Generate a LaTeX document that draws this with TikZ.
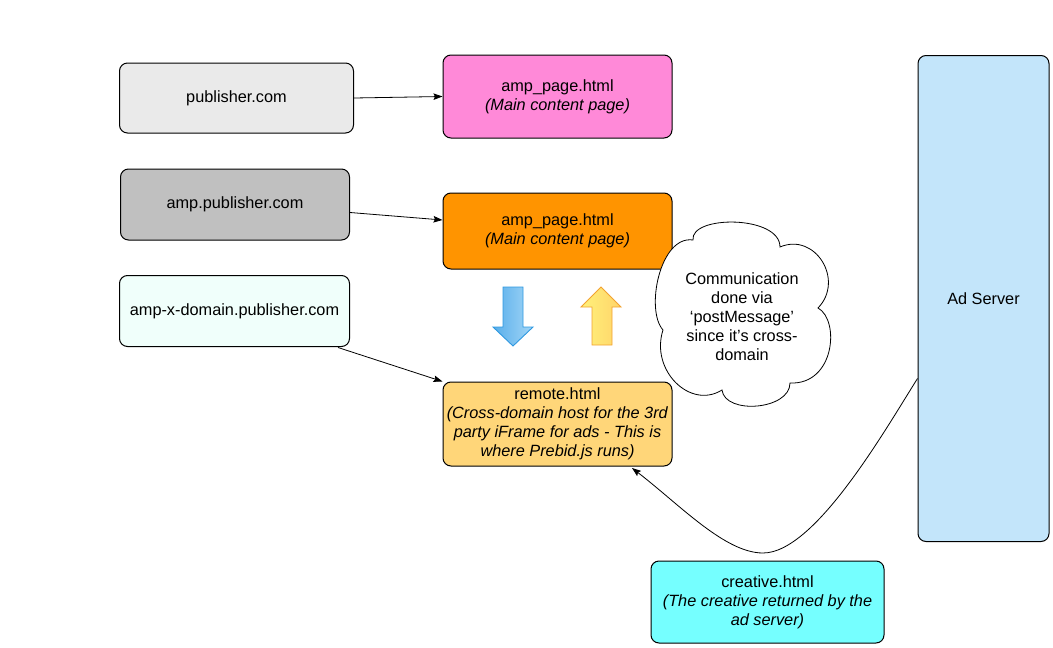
\documentclass[tikz,border=0pt]{standalone}
\usepackage{fontspec}
\setmainfont{Liberation Sans}
\usetikzlibrary{arrows.meta,calc}
\definecolor{pubgray}{HTML}{EAEAEA}
\definecolor{pinkbox}{HTML}{FF89D8}
\definecolor{graybox}{HTML}{C0C0C0}
\definecolor{orangebox}{HTML}{FF9400}
\definecolor{xdombox}{HTML}{F0FFFB}
\definecolor{remotebox}{HTML}{FFD679}
\definecolor{adbox}{HTML}{C3E5FA}
\definecolor{creativebox}{HTML}{75FFFF}
\definecolor{bluedark}{HTML}{58AEEA}
\definecolor{bluelight}{HTML}{A3D6F7}
\definecolor{blueedge}{HTML}{2E98E0}
\definecolor{yellowlight}{HTML}{FFF17A}
\definecolor{yellowdark}{HTML}{FFD46A}
\definecolor{yellowedge}{HTML}{F2A230}
\tikzset{
  every node/.style={font=\fontsize{16.3}{19}\selectfont},
  box/.style={draw=black, line width=1pt, rounded corners=8pt, align=center, inner sep=0pt},
  link/.style={line width=0.8pt, -{Stealth[length=9pt,width=6.5pt,inset=1.5pt]}},
  cloudline/.style={draw=black, line width=0.8pt, fill=white}
}
\begin{document}
\begin{tikzpicture}[x=1pt,y=-1pt]
\useasboundingbox (0,0) rectangle (1053,648);

\node[box, fill=pubgray, minimum width=234pt, minimum height=70pt] (pub) at (236.5,98) {publisher.com};
\node[box, fill=pinkbox, minimum width=229pt, minimum height=83pt] (pink) at (557.5,96.5) {amp\_page.html\\\textit{(Main content page)}};
\node[box, fill=graybox, minimum width=229pt, minimum height=71pt] (amppub) at (235,204.5) {amp.publisher.com};
\node[box, fill=orangebox, minimum width=229pt, minimum height=76pt] (orange) at (557.5,231) {amp\_page.html\\\textit{(Main content page)}};
\node[box, fill=xdombox, minimum width=230pt, minimum height=71pt] (ampx) at (234.5,311) {amp-x-domain.publisher.com};
\node[box, fill=remotebox, minimum width=229pt, minimum height=84pt] (remote) at (557.5,424) {remote.html\\\textit{(Cross-domain host for the 3rd}\\\textit{party iFrame for ads - This is}\\\textit{where Prebid.js runs)}};
\node[box, fill=adbox, minimum width=131pt, minimum height=486pt] (ad) at (983.5,298.5) {Ad Server};
\node[box, fill=creativebox, minimum width=233pt, minimum height=82pt] (creative) at (767.5,602) {creative.html\\\textit{(The creative returned by the}\\\textit{ad server)}};

% cloud
\path[cloudline] (663,330)
  .. controls (645,310) and (660,235) .. (693,240)
  .. controls (690,215) and (780,215) .. (780,247)
  .. controls (815,232) and (845,280) .. (818,308)
  .. controls (840,320) and (835,385) .. (790,383)
  .. controls (790,410) and (725,415) .. (722,390)
  .. controls (690,410) and (650,370) .. (663,330) -- cycle;
\node[align=center, inner sep=0pt] (cloudtxt) at (742,317) {Communication\\done via\\‘postMessage’\\since it’s cross-\\domain};

% block arrows
\shadedraw[left color=bluedark, right color=bluelight, draw=blueedge, line width=0.9pt]
  (503,287) -- (523,287) -- (523,327) -- (533,327) -- (513,346) -- (493,327) -- (503,327) -- cycle;
\shadedraw[left color=yellowlight, right color=yellowdark, draw=yellowedge, line width=0.9pt]
  (592,345) -- (612,345) -- (612,307) -- (621,307) -- (601,287) -- (581,307) -- (592,307) -- cycle;

% connectors
\draw[link] (pub.east) -- (pink.west);
\draw[link] ($(amppub.east)+(0,8)$) -- ($(orange.west)+(0,-11)$);
\draw[link] ($(ampx.south east)+(-12,0.5)$) -- (remote.north west);
\coordinate (adout) at ($(ad.west)+(0,80)$);
\coordinate (remin) at ($(remote.south)+(74.5,1.5)$);
\draw[link] (adout)
  .. controls (885,430) and (815,553) .. (763,553)
  .. controls (725,553) and (680,505) .. (remin);
\end{tikzpicture}
\end{document}
